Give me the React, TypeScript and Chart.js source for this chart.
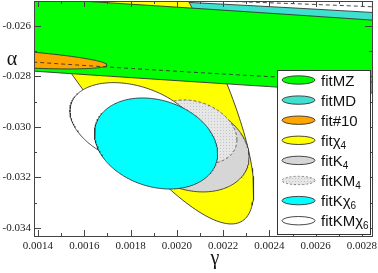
import React, { useEffect, useRef } from 'react';
import { Chart, registerables } from 'chart.js';

Chart.register(...registerables);

// ---- data -----------------------------------------------------------------
// Confidence regions (ellipses): centre (γ, α) and two conjugate semi-axes.
const FIT_LABELS = ['fitMZ', 'fitMD', 'fit#10', 'fitχ₄', 'fitK₄', 'fitKM₄', 'fitKχ₆', 'fitKMχ₆'];
const CENTER_GAMMA = [0.0020568, 0.0021, 0.001236, 0.001633, 0.002057, 0.002078, 0.00191, 0.001819];
const CENTER_ALPHA = [-0.0267426, -0.026554, -0.027267, -0.02398, -0.030792, -0.030198, -0.030653, -0.029921];
const AXIS1_GAMMA = [0.0064815, 0.003889, 0.000462, 0.000356, 0.000255, 0.0001815, 0.000266, 0.000281];
const AXIS1_ALPHA = [-0.0038614, -0.001818, -0.000277, 0, -0.000392, -0.000317, -0.000396, -0.000554];
const AXIS2_GAMMA = [0, 0, 0, 0.000602, 0, 0, 0, 0];
const AXIS2_ALPHA = [0.0014554, 0.001465, 0.000333, -0.00986, 0.001735, 0.001228, 0.001758, 0.001584];

// extra dashed (unfilled) contour crossing the fitMZ band
const DASHED_CENTER = [0.003296, -0.026919];
const DASHED_AXIS1 = [0.003967, -0.001667];
const DASHED_AXIS2 = [0, 0.001501];

const FILL_COLORS = ['#00ff00', '#40e0d0', '#ffa500', '#ffff00', '#d6d6d6', 'PATTERN', '#00ffff', '#ffffff'];
// drawing order, from top-most to bottom-most (-1 = dashed contour)
const DRAW_ORDER = [6, 7, 5, 4, -1, 2, 0, 3, 1];

const X_MIN = 0.00138272;
const X_MAX = 0.00284321;
const Y_MIN = -0.0343168;
const Y_MAX = -0.02501;
const X_TICKS = [0.0014, 0.0016, 0.0018, 0.002, 0.0022, 0.0024, 0.0026, 0.0028];
const X_TICK_LABELS = ['0.0014', '0.0016', '0.0018', '0.0020', '0.0022', '0.0024', '0.0026', '0.0028'];
const X_MINOR = [0.0015, 0.0017, 0.0019, 0.0021, 0.0023, 0.0025, 0.0027];
const Y_TICKS = [-0.026, -0.028, -0.03, -0.032, -0.034];
const Y_TICK_LABELS = ['-0.026', '-0.028', '-0.030', '-0.032', '-0.034'];
const Y_MINOR = [-0.027, -0.029, -0.031, -0.033];
const X_TITLE = 'γ';
const Y_TITLE = 'α';

const SAMPLES = 240;

function contour(cg: number, ca: number, a1g: number, a1a: number, a2g: number, a2a: number) {
  const pts: { x: number; y: number }[] = [];
  for (let i = 0; i <= SAMPLES; i++) {
    const t = (i / SAMPLES) * Math.PI * 2;
    const c = Math.cos(t);
    const s = Math.sin(t);
    pts.push({ x: cg + a1g * c + a2g * s, y: ca + a1a * c + a2a * s });
  }
  return pts;
}

function makePattern(): CanvasPattern | string {
  const c = document.createElement('canvas');
  c.width = 3;
  c.height = 3;
  const g = c.getContext('2d');
  if (!g) return '#e4e4e4';
  g.fillStyle = '#e6e6e6';
  g.fillRect(0, 0, 3, 3);
  g.fillStyle = '#c4c4c4';
  g.fillRect(1, 1, 1, 1);
  const p = g.createPattern(c, 'repeat');
  return p || '#e4e4e4';
}

const SERIF = '"Liberation Serif", "DejaVu Serif", serif';
const SANS = '"Liberation Sans", Arial, sans-serif';

function zeroPadding(s: any) {
  s.paddingTop = 0;
  s.paddingBottom = 0;
  s.paddingLeft = 0;
  s.paddingRight = 0;
}

export default function App() {
  const ref = useRef<HTMLCanvasElement | null>(null);

  useEffect(() => {
    const canvas = ref.current;
    if (!canvas) return;
    const pattern = makePattern();
    const fillOf = (i: number) => (FILL_COLORS[i] === 'PATTERN' ? pattern : FILL_COLORS[i]);

    const datasets: any[] = DRAW_ORDER.map((i) => {
      if (i < 0) {
        return {
          label: 'dashed',
          data: contour(DASHED_CENTER[0], DASHED_CENTER[1], DASHED_AXIS1[0], DASHED_AXIS1[1], DASHED_AXIS2[0], DASHED_AXIS2[1]),
          fill: false,
          borderColor: '#333333',
          borderWidth: 0.9,
          borderDash: [4, 3],
          pointRadius: 0,
        };
      }
      return {
        label: FIT_LABELS[i],
        data: contour(CENTER_GAMMA[i], CENTER_ALPHA[i], AXIS1_GAMMA[i], AXIS1_ALPHA[i], AXIS2_GAMMA[i], AXIS2_ALPHA[i]),
        fill: 'shape',
        backgroundColor: fillOf(i),
        borderColor: i === 5 ? '#555555' : '#333333',
        borderWidth: 0.9,
        borderDash: i === 5 ? [3, 2] : [],
        pointRadius: 0,
      };
    });

    const frameAndLegend = {
      id: 'frameAndLegend',
      afterDraw(chart: any) {
        const ctx = chart.ctx as CanvasRenderingContext2D;
        const { left, right, top, bottom } = chart.chartArea;
        const xs = chart.scales.x;
        const ys = chart.scales.y;
        ctx.save();
        // frame
        ctx.strokeStyle = '#444444';
        ctx.lineWidth = 1;
        ctx.strokeRect(left + 0.5, top + 0.5, right - left, bottom - top);
        // inward ticks
        const xTick = (v: number, len: number) => {
          const p = Math.round(xs.getPixelForValue(v)) + 0.5;
          ctx.beginPath();
          ctx.moveTo(p, bottom);
          ctx.lineTo(p, bottom - len);
          ctx.moveTo(p, top);
          ctx.lineTo(p, top + len);
          ctx.stroke();
        };
        const yTick = (v: number, len: number) => {
          const p = Math.round(ys.getPixelForValue(v)) + 0.5;
          ctx.beginPath();
          ctx.moveTo(left, p);
          ctx.lineTo(left + len, p);
          ctx.moveTo(right, p);
          ctx.lineTo(right - len, p);
          ctx.stroke();
        };
        X_TICKS.forEach((v) => xTick(v, 6));
        X_MINOR.forEach((v) => xTick(v, 3));
        Y_TICKS.forEach((v) => yTick(v, 7));
        Y_MINOR.forEach((v) => yTick(v, 3));

        // axis titles
        ctx.fillStyle = '#111111';
        ctx.font = '20px ' + SERIF;
        ctx.textAlign = 'center';
        ctx.textBaseline = 'alphabetic';
        ctx.fillText(Y_TITLE, 12, 65);
        ctx.fillText(X_TITLE, 215, 264);

        // legend
        const lx = 277;
        const ly = 70;
        const lw = 93;
        const lh = 164;
        ctx.fillStyle = '#ffffff';
        ctx.fillRect(lx, ly, lw, lh);
        ctx.strokeStyle = '#333333';
        ctx.lineWidth = 1;
        ctx.strokeRect(lx + 0.5, ly + 0.5, lw, lh);
        FIT_LABELS.forEach((label, i) => {
          const cy = 80 + i * 20.1;
          ctx.beginPath();
          ctx.ellipse(298.5, cy, 16.5, 4.2, 0, 0, Math.PI * 2);
          ctx.fillStyle = fillOf(i) as any;
          ctx.fill();
          ctx.setLineDash(i === 5 ? [2, 2] : []);
          ctx.strokeStyle = i === 5 ? '#777777' : '#333333';
          ctx.lineWidth = 0.9;
          ctx.stroke();
          ctx.setLineDash([]);
          // text with subscripts
          ctx.fillStyle = '#111111';
          ctx.textAlign = 'left';
          ctx.textBaseline = 'alphabetic';
          const subs = '₀₁₂₃₄₅₆₇₈₉';
          let base = '';
          let sub = '';
          for (const ch of label) {
            const k = subs.indexOf(ch);
            if (k >= 0) sub += String(k);
            else base += ch;
          }
          ctx.font = '15px ' + SANS;
          const bx = 321;
          const by = cy + 5.5;
          ctx.fillText(base, bx, by);
          if (sub) {
            const w = ctx.measureText(base).width;
            ctx.font = '10px ' + SANS;
            ctx.fillText(sub, bx + w, by + 3);
          }
        });
        ctx.restore();
      },
    };

    const chart = new Chart(canvas, {
      type: 'line',
      data: { datasets },
      options: {
        animation: false,
        responsive: false,
        events: [],
        layout: { autoPadding: false, padding: { left: 0, top: 1, right: 6, bottom: 0 } },
        plugins: { legend: { display: false }, tooltip: { enabled: false } },
        elements: { point: { radius: 0 }, line: { tension: 0 } },
        scales: {
          x: {
            type: 'linear',
            min: X_MIN,
            max: X_MAX,
            afterBuildTicks: (s: any) => {
              s.ticks = X_TICKS.map((v) => ({ value: v }));
            },
            afterFit: (s: any) => {
              s.height = 37;
              zeroPadding(s);
            },
            ticks: {
              callback: (_v: any, i: number) => X_TICK_LABELS[i],
              font: { family: SERIF, size: 11 },
              color: '#222222',
              padding: 4,
              maxRotation: 0,
              autoSkip: false,
            },
            grid: { display: false, drawTicks: false, tickLength: 0 },
            border: { display: false },
          },
          y: {
            type: 'linear',
            min: Y_MIN,
            max: Y_MAX,
            afterBuildTicks: (s: any) => {
              s.ticks = Y_TICKS.map((v) => ({ value: v }));
            },
            afterFit: (s: any) => {
              s.width = 34;
              zeroPadding(s);
            },
            ticks: {
              callback: (_v: any, i: number) => Y_TICK_LABELS[i],
              font: { family: SERIF, size: 11 },
              color: '#222222',
              padding: 3,
              autoSkip: false,
            },
            grid: { display: false, drawTicks: false, tickLength: 0 },
            border: { display: false },
          },
        },
      } as any,
      plugins: [frameAndLegend],
    });
    return () => chart.destroy();
  }, []);

  return (
    <div style={{ position: 'fixed', left: 0, top: 0, width: 378, height: 273, background: '#ffffff' }}>
      <canvas ref={ref} width={378} height={273} style={{ display: 'block', width: 378, height: 273 }} />
    </div>
  );
}
